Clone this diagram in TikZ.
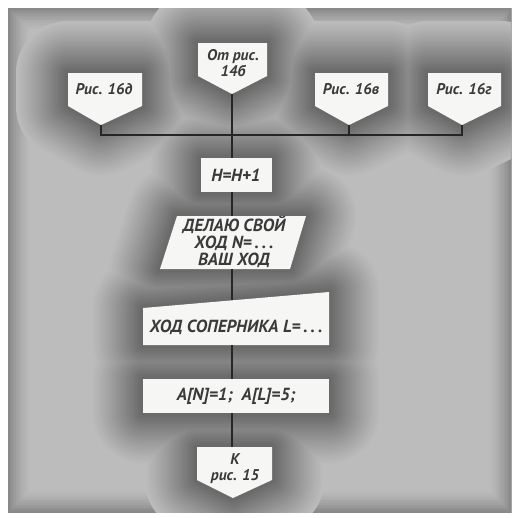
\documentclass[tikz,border=0pt]{standalone}
\usepackage{fontspec}
\setmainfont{PT Sans}
\definecolor{bgcol}{HTML}{BCBCBC}
\definecolor{halocol}{HTML}{4A4A4A}
\definecolor{boxcol}{HTML}{F6F6F4}
\definecolor{inkcol}{HTML}{3A3A3A}
\definecolor{linecol}{HTML}{262626}
\tikzset{
  shapebox/.style={fill=boxcol, draw=none},
  lbl/.style={font=\fontsize{15.5}{16}\selectfont\bfseries\itshape, text=inkcol, align=center, inner sep=0pt},
  btxt/.style={font=\fontsize{17.5}{17}\selectfont\bfseries\itshape, text=inkcol, align=center, inner sep=0pt},
  conn/.style={draw=linecol, line width=1.8pt},
}
\newcommand{\allshapes}{%
 (198,43) -- (267,43) -- (267,76) -- (232,94) -- (198,76) -- cycle
 (68,73) -- (142,73) -- (142,106) -- (101,125) -- (68,106) -- cycle
 (315,73) -- (388,73) -- (388,106) -- (349,125) -- (315,106) -- cycle
 (428,73) -- (501,73) -- (501,106) -- (462,125) -- (428,106) -- cycle
 (201,158) rectangle (272,192)
 (177,216) -- (306,216) -- (290,269) -- (160,269) -- cycle
 (143,308) -- (329,292) -- (329,345) -- (143,345) -- cycle
 (143,379) rectangle (329,413)
 (197,447) -- (272,447) -- (272,480) -- (233,498) -- (197,480) -- cycle
}
\begin{document}
\begin{tikzpicture}[x=1pt,y=-1pt]
\useasboundingbox (0,0) rectangle (518,517);
\fill[white] (0,0) rectangle (518,517);
\begin{scope}
\clip (8,8) rectangle (511,512);
\fill[bgcol] (8,8) rectangle (511,512);
% vignette at the frame edge
\foreach \i in {0,...,15}{%
  \pgfmathsetmacro{\w}{48-3*\i}%
  \pgfmathsetmacro{\p}{int(round(45*(\i/15)^1.5))}%
  \draw[draw=halocol!\p!bgcol, line width=\w pt] (8,8) rectangle (511,512);}
% soft dark halo around every shape
\foreach \i in {0,...,30}{%
  \pgfmathsetmacro{\w}{104-3.3*\i}%
  \pgfmathsetmacro{\p}{int(round(72*(\i/30)^1.1))}%
  \draw[draw=halocol!\p!bgcol, line width=\w pt, line join=round] \allshapes;}
\end{scope}
% shapes
\path[shapebox] (198,43) -- (267,43) -- (267,76) -- (232,94) -- (198,76) -- cycle;
\path[shapebox] (68,73) -- (142,73) -- (142,106) -- (101,125) -- (68,106) -- cycle;
\path[shapebox] (315,73) -- (388,73) -- (388,106) -- (349,125) -- (315,106) -- cycle;
\path[shapebox] (428,73) -- (501,73) -- (501,106) -- (462,125) -- (428,106) -- cycle;
\path[shapebox] (201,158) rectangle (272,192);
\path[shapebox] (177,216) -- (306,216) -- (290,269) -- (160,269) -- cycle;
\path[shapebox] (143,308) -- (329,292) -- (329,345) -- (143,345) -- cycle;
\path[shapebox] (143,379) rectangle (329,413);
\path[shapebox] (197,447) -- (272,447) -- (272,480) -- (233,498) -- (197,480) -- cycle;
% texts
\node[lbl] (ot) at (233,63) {От рис.\\14б};
\node[lbl] (r16d) at (104,89) {Рис. 16д};
\node[lbl] (r16v) at (351,89) {Рис. 16в};
\node[lbl] (r16g) at (464,89) {Рис. 16г};
\node[btxt] (inc) at (236,175) {H=H+1};
\node[btxt] (move) at (234,242) {ДЕЛАЮ СВОЙ\\ХОД N=\,.\,.\,.\\ВАШ ХОД};
\node[btxt] (opp) at (236,327) {ХОД СОПЕРНИКА L=\,.\,.\,.};
\node[btxt] (arr) at (236,396) {A[N]=1;\ \ A[L]=5;};
\node[lbl] (k15) at (235,469) {К\\рис. 15};
% connection points
\coordinate (ot-s) at (232,94);
\coordinate (d-s) at (101,125);
\coordinate (v-s) at (349,125);
\coordinate (g-s) at (462,125);
\coordinate (busL) at (101,135);
\coordinate (busR) at (462,135);
\coordinate (busM) at (232,135);
\coordinate (busV) at (349,135);
\coordinate (inc-n) at (232,158);
\coordinate (inc-s) at (232,192);
\coordinate (move-n) at (232,216);
\coordinate (move-s) at (232,269);
\coordinate (opp-n) at (232,300);
\coordinate (opp-s) at (232,345);
\coordinate (arr-n) at (232,379);
\coordinate (arr-s) at (232,413);
\coordinate (k-n) at (232,447);
% connectors
\draw[conn] (ot-s) -- (busM);
\draw[conn] (d-s) -- (busL) -- (busR) -- (g-s);
\draw[conn] (v-s) -- (busV);
\draw[conn] (busM) -- (inc-n);
\draw[conn] (inc-s) -- (move-n);
\draw[conn] (move-s) -- (opp-n);
\draw[conn] (opp-s) -- (arr-n);
\draw[conn] (arr-s) -- (k-n);
\end{tikzpicture}
\end{document}
